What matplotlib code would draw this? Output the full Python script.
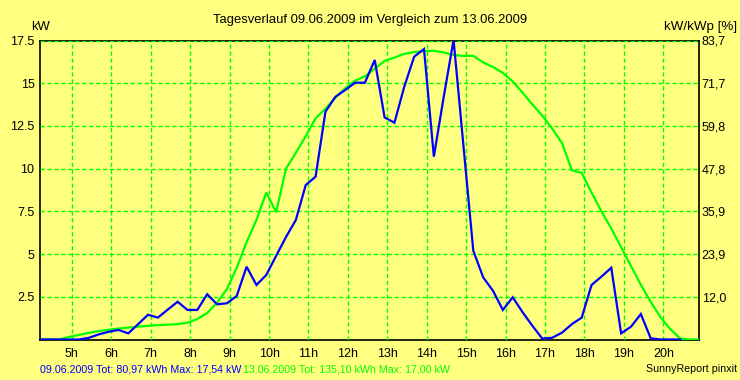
import matplotlib
matplotlib.use("Agg")
import matplotlib.pyplot as plt
import numpy as np

plt.rcParams['font.family'] = ['Liberation Sans', 'DejaVu Sans']

# quarter-hour slots
first_slot_hour = 4.18
slot_hours = 0.25

blue_kw = [0.0, 0.0, 0.0, 0.0, 0.0, 0.1, 0.3, 0.45, 0.56, 0.36,
           0.9, 1.45, 1.28, 1.75, 2.21, 1.73, 1.73, 2.65, 2.06, 2.12,
           2.55, 4.26, 3.19, 3.78, 4.9, 6.0, 7.0, 9.04, 9.53, 13.33,
           14.2, 14.6, 15.03, 15.03, 16.36, 13.0, 12.69, 14.8, 16.55, 17.0,
           10.7, 14.2, 17.54, 11.35, 5.2, 3.64, 2.85, 1.73, 2.47, 1.6,
           0.8, 0.05, 0.1, 0.4, 0.9, 1.28, 3.19, 3.68, 4.2, 0.36,
           0.75, 1.49, 0.07, 0.0, 0.0, 0.0]

green_kw = [0.0, 0.0, 0.0, 0.15, 0.27, 0.39, 0.49, 0.57, 0.64, 0.7,
            0.75, 0.8, 0.84, 0.87, 0.9, 0.98, 1.2, 1.55, 2.15, 2.95,
            4.2, 5.7, 7.0, 8.6, 7.45, 10.0, 10.93, 11.9, 12.95, 13.5,
            14.15, 14.7, 15.15, 15.4, 15.85, 16.3, 16.5, 16.72, 16.82, 16.88,
            16.9, 16.8, 16.65, 16.6, 16.6, 16.22, 15.95, 15.6, 15.1, 14.45,
            13.75, 13.1, 12.35, 11.5, 9.9, 9.75, 8.6, 7.5, 6.5, 5.4,
            4.3, 3.2, 2.2, 1.3, 0.6, 0.05, 0.0, 0.0]

hour_ticks = list(range(5, 21))
hour_labels = [f"{h}h" for h in hour_ticks]
kw_ticks = [2.5, 5, 7.5, 10, 12.5, 15, 17.5]
kw_labels = ['2.5', '5', '7.5', '10', '12.5', '15', '17.5']
pct_labels = ['12,0', '23,9', '35,9', '47,8', '59,8', '71,7', '83,7']
pct_max = 83.7
kw_max = 17.5

title = "Tagesverlauf 09.06.2009 im Vergleich zum 13.06.2009"
legend_blue = "09.06.2009 Tot: 80,97 kWh Max: 17,54 kW"
legend_green = "13.06.2009 Tot: 135,10 kWh Max: 17,00 kW"
credit = "SunnyReport pinxit"

BG = '#FFFF80'
GREEN = '#00FF00'
BLUE = '#0000FF'

W, H = 740, 380
fig = plt.figure(figsize=(W / 100, H / 100), dpi=100, facecolor=BG)
ax = fig.add_axes([40 / W, 1 - 339.5 / H, (699 - 40) / W, (339.5 - 40.5) / H])
ax.set_facecolor(BG)

t_blue = first_slot_hour + slot_hours * np.arange(len(blue_kw))
t_green = first_slot_hour + slot_hours * np.arange(len(green_kw))

ax.plot(t_green, green_kw, color=GREEN, lw=1.6, zorder=4, solid_joinstyle='miter')
ax.plot(t_blue, blue_kw, color=BLUE, lw=1.6, zorder=5, solid_joinstyle='miter')

ax.set_xlim(4.19, 20.905)
ax.set_ylim(0, kw_max)

ax.set_xticks(hour_ticks)
ax.set_xticklabels(hour_labels, fontsize=9)
ax.set_yticks(kw_ticks)
ax.set_yticklabels(kw_labels, fontsize=9)
ax.tick_params(axis='both', length=0, pad=6)
ax.tick_params(axis='y', pad=4)

for h in hour_ticks:
    ax.axvline(h, color=GREEN, lw=1, ls=(0, (3, 2)), zorder=3)
for v in kw_ticks:
    ax.axhline(v, color=GREEN, lw=1, ls=(0, (3, 2)), zorder=3)

for s in ax.spines.values():
    s.set_color('black')
    s.set_linewidth(1.2)
    s.set_zorder(2.5)

ax2 = ax.twinx()
ax2.set_ylim(0, pct_max)
ax2.set_yticks([v * pct_max / kw_max for v in kw_ticks])
ax2.set_yticklabels(pct_labels, fontsize=9)
ax2.tick_params(axis='y', length=0, pad=2)
for s in ax2.spines.values():
    s.set_visible(False)

fig.text(370 / W, 1 - 20 / H, title, ha='center', va='center', fontsize=9.4)
fig.text(40 / W, 1 - 27 / H, "kW", ha='center', va='center', fontsize=9.4)
fig.text(737 / W, 1 - 27 / H, "kW/kWp [%]", ha='right', va='center', fontsize=9.6)

t1 = fig.text(40 / W, 1 - 369 / H, legend_blue, ha='left', va='center', fontsize=7.7, color=BLUE)
fig.canvas.draw()
bb = t1.get_window_extent(renderer=fig.canvas.get_renderer())
fig.text((bb.x1 + 2) / W, 1 - 369 / H, legend_green, ha='left', va='center', fontsize=7.7, color=GREEN)
fig.text(737 / W, 1 - 369 / H, credit, ha='right', va='center', fontsize=7.7)

fig.savefig("out.png", dpi=100, facecolor=BG)
